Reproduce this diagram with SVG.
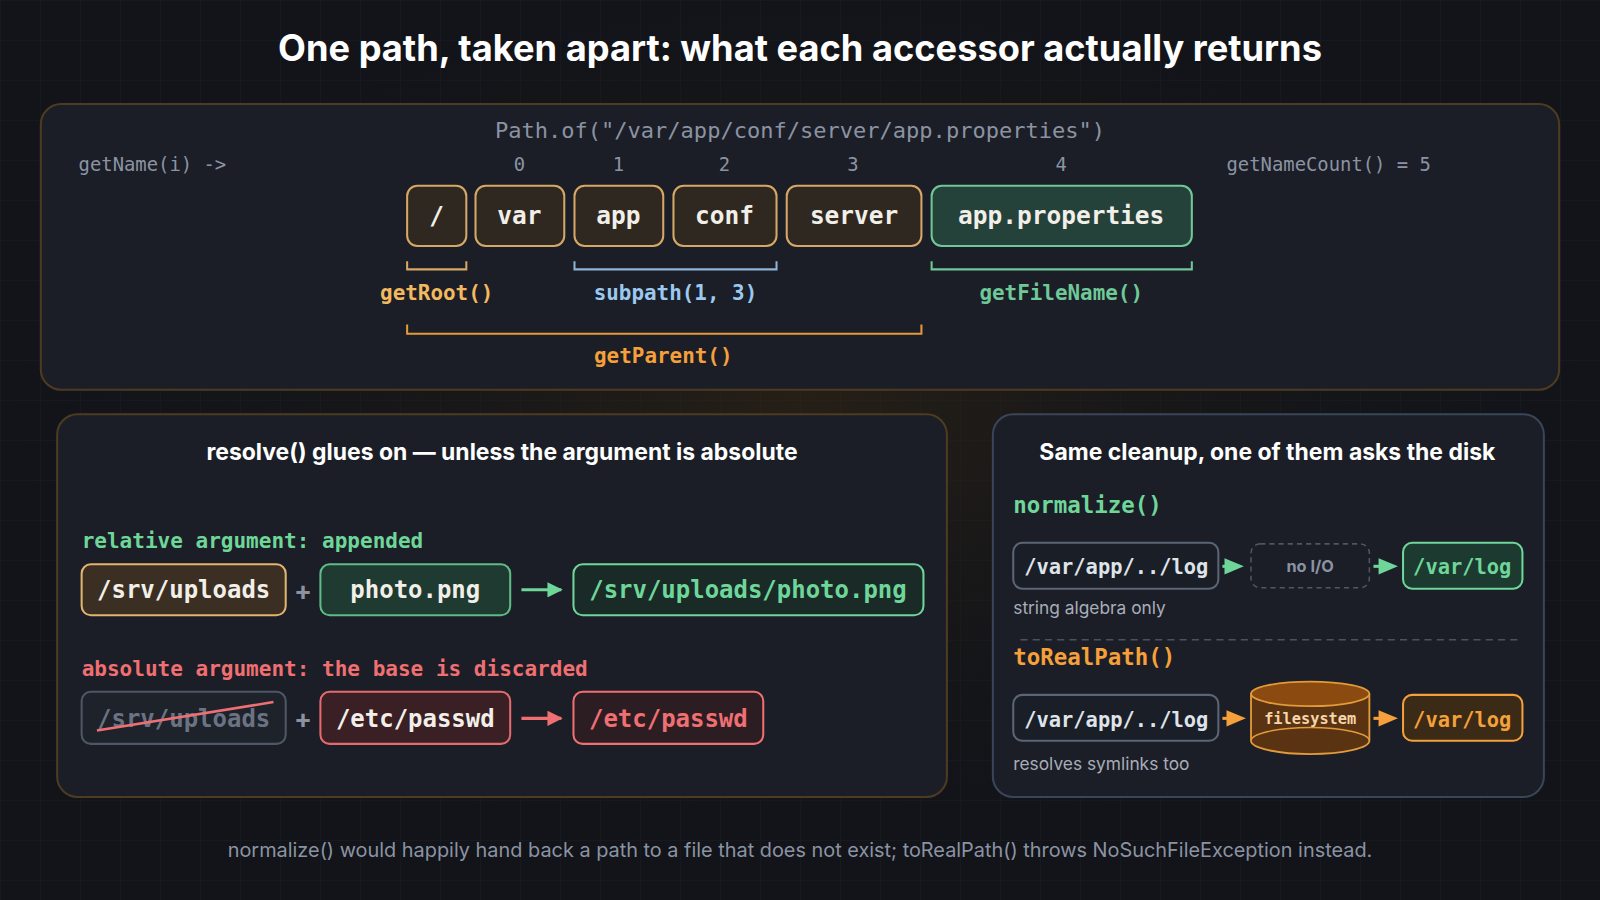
<svg xmlns="http://www.w3.org/2000/svg" width="1600" height="900" viewBox="0 0 1600 900">
<defs>
<pattern id="grid" width="40" height="40" patternUnits="userSpaceOnUse"><path d="M40 0H0V40" fill="none" stroke="#1a1d23" stroke-width="1"/></pattern>
<radialGradient id="glow" cx="0.5" cy="0.45" r="0.5"><stop offset="0" stop-color="#3a2a14" stop-opacity="0.5"/><stop offset="1" stop-color="#121419" stop-opacity="0"/></radialGradient>
<marker id="ag" viewBox="0 0 10 10" refX="9" refY="5" markerWidth="5" markerHeight="5" orient="auto"><path d="M0 0L10 5L0 10z" fill="#6fd69a"/></marker>
<marker id="ar" viewBox="0 0 10 10" refX="9" refY="5" markerWidth="5" markerHeight="5" orient="auto"><path d="M0 0L10 5L0 10z" fill="#f06f72"/></marker>
<style>
.sans{font-family:"Inter","Liberation Sans",sans-serif}
.mono{font-family:"DejaVu Sans Mono","Liberation Mono",monospace}
.seg{fill:#2f2820;stroke:#d7a766;stroke-width:2}
.segt{font-family:"DejaVu Sans Mono",monospace;font-weight:bold;font-size:24px;fill:#f2efe9;text-anchor:middle}
.idx{font-family:"DejaVu Sans Mono",monospace;font-size:18.5px;fill:#8b93a3;text-anchor:middle}
.lbl{font-family:"DejaVu Sans Mono",monospace;font-weight:bold;font-size:20.5px;text-anchor:middle}
.bt{font-family:"DejaVu Sans Mono",monospace;font-size:23.5px;font-weight:bold;text-anchor:middle}
.grey{fill:#1a1e26;stroke:#5b6576;stroke-width:2}
.note{font-family:"Inter","Liberation Sans",sans-serif;font-size:17px;fill:#a7adb8}
</style>
</defs>
<rect width="1600" height="900" fill="#121419"/>
<rect width="1600" height="900" fill="url(#grid)"/>
<rect width="1600" height="900" fill="url(#glow)"/>
<g transform="scale(1.0204)">
<text class="sans" x="784" y="60" text-anchor="middle" font-size="35.5" font-weight="bold" fill="#ffffff">One path, taken apart: what each accessor actually returns</text>

<g id="top-panel">
<rect x="40" y="102" width="1488" height="280" rx="20" fill="#1b1e26" stroke="#4d3b22" stroke-width="2"/>
<text class="mono" x="784" y="135" text-anchor="middle" font-size="21.6" fill="#8b93a3">Path.of("/var/app/conf/server/app.properties")</text>
<text class="mono" x="77" y="168" font-size="18.5" fill="#8b93a3">getName(i) -&gt;</text>
<text class="idx" x="509" y="168">0</text><text class="idx" x="606" y="168">1</text><text class="idx" x="710" y="168">2</text><text class="idx" x="836" y="168">3</text><text class="idx" x="1040" y="168">4</text>
<text class="mono" x="1202" y="168" font-size="18.5" fill="#8b93a3">getNameCount() = 5</text>
</g>
<g id="seg-root"><rect class="seg" x="399" y="182" width="58" height="59" rx="10" fill="#45382a"/><text class="segt" x="428" y="220">/</text></g>
<g id="seg-var"><rect class="seg" x="466" y="182" width="87" height="59" rx="10"/><text class="segt" x="509" y="220">var</text></g>
<g id="seg-app"><rect class="seg" x="563" y="182" width="87" height="59" rx="10"/><text class="segt" x="606" y="220">app</text></g>
<g id="seg-conf"><rect class="seg" x="660" y="182" width="101" height="59" rx="10"/><text class="segt" x="710" y="220">conf</text></g>
<g id="seg-server"><rect class="seg" x="771" y="182" width="132" height="59" rx="10"/><text class="segt" x="837" y="220">server</text></g>
<g id="seg-file"><rect x="913" y="182" width="255" height="59" rx="10" fill="#24423a" stroke="#6fc897" stroke-width="2"/><text class="segt" x="1040" y="220">app.properties</text></g>
<g id="brackets" fill="none" stroke-width="2">
<path d="M399 256V264H457V256" stroke="#d7a766"/>
<path d="M563 256V264H761V256" stroke="#8fb4d4"/>
<path d="M913 256V264H1168V256" stroke="#6fc897"/>
<path d="M399 318V327H903V318" stroke="#e39a3a"/>
</g>
<text class="lbl" x="428" y="294" fill="#f3b95f">getRoot()</text>
<text class="lbl" x="662" y="294" fill="#9cc9ef">subpath(1, 3)</text>
<text class="lbl" x="1040" y="294" fill="#6fc897">getFileName()</text>
<text class="lbl" x="650" y="356" fill="#f5a03a">getParent()</text>

<g id="resolve-panel">
<rect x="56" y="406" width="872" height="375" rx="20" fill="#1b1e26" stroke="#4d3b22" stroke-width="2"/>
<text class="sans" x="492" y="451" text-anchor="middle" font-size="22.5" font-weight="bold" fill="#ffffff">resolve() glues on — unless the argument is absolute</text>
<text class="mono" x="80" y="537" font-size="20.6" font-weight="bold" fill="#6fd69a">relative argument: appended</text>
<text class="mono" x="80" y="662" font-size="20.6" font-weight="bold" fill="#f06f72">absolute argument: the base is discarded</text>
</g>
<g id="rel-base"><rect x="80" y="553" width="200" height="50" rx="9" fill="#3a2f22" stroke="#e3b46e" stroke-width="2"/><text class="bt" x="180" y="586" fill="#f2efe9">/srv/uploads</text></g>
<text class="sans" x="297" y="588" text-anchor="middle" font-size="26" font-weight="bold" fill="#8b93a3">+</text>
<g id="rel-arg"><rect x="314" y="553" width="186" height="50" rx="9" fill="#1f3a31" stroke="#5fbb88" stroke-width="2"/><text class="bt" x="407" y="586" fill="#f2efe9">photo.png</text></g>
<g id="rel-res"><rect x="562" y="553" width="343" height="50" rx="9" fill="#1a2a27" stroke="#6fd69a" stroke-width="2"/><text class="bt" x="733" y="586" fill="#6fd69a">/srv/uploads/photo.png</text></g>
<g id="abs-base"><rect x="80" y="678" width="200" height="51" rx="9" fill="#1e222b" stroke="#4f5766" stroke-width="2"/><text class="bt" x="180" y="712" fill="#6b7383" font-weight="normal">/srv/uploads</text><line x1="95" y1="716" x2="268" y2="688" stroke="#f06f72" stroke-width="2.5"/></g>
<text class="sans" x="297" y="713" text-anchor="middle" font-size="26" font-weight="bold" fill="#8b93a3">+</text>
<g id="abs-arg"><rect x="314" y="678" width="186" height="51" rx="9" fill="#3a1f24" stroke="#e36b70" stroke-width="2"/><text class="bt" x="407" y="712" fill="#f2efe9">/etc/passwd</text></g>
<g id="abs-res"><rect x="562" y="678" width="186" height="51" rx="9" fill="#2c1d22" stroke="#f06f72" stroke-width="2"/><text class="bt" x="655" y="712" fill="#f06f72">/etc/passwd</text></g>

<g id="norm-panel">
<rect x="973" y="406" width="540" height="375" rx="20" fill="#1b1e26" stroke="#39465a" stroke-width="2"/>
<text class="sans" x="1242" y="451" text-anchor="middle" font-size="22.5" font-weight="bold" fill="#ffffff">Same cleanup, one of them asks the disk</text>
<text class="mono" x="993" y="503" font-size="22" font-weight="bold" fill="#6fd69a">normalize()</text>
<text class="note" x="993" y="602">string algebra only</text>
<line x1="1000" y1="627" x2="1490" y2="627" stroke="#4a5262" stroke-width="1.5" stroke-dasharray="7 5"/>
<text class="mono" x="993" y="652" font-size="22" font-weight="bold" fill="#f5a03a">toRealPath()</text>
<text class="note" x="993" y="755">resolves symlinks too</text>
</g>
<g id="n-in"><rect class="grey" x="993" y="532" width="201" height="45" rx="9"/><text class="mono" x="1094" y="563" text-anchor="middle" font-size="20" font-weight="bold" fill="#dfe3ea">/var/app/../log</text></g>
<g id="n-mid"><rect x="1226" y="533" width="116" height="43" rx="9" fill="none" stroke="#4f5766" stroke-width="1.5" stroke-dasharray="5 4"/><text class="sans" x="1284" y="561" text-anchor="middle" font-size="16" font-weight="bold" fill="#8b93a3">no I/O</text></g>
<g id="n-out"><rect x="1375" y="532" width="117" height="45" rx="9" fill="#1c3a30" stroke="#6fd69a" stroke-width="2"/><text class="mono" x="1433" y="563" text-anchor="middle" font-size="20" font-weight="bold" fill="#6fd69a">/var/log</text></g>
<g id="r-in"><rect class="grey" x="993" y="681" width="201" height="45" rx="9"/><text class="mono" x="1094" y="712" text-anchor="middle" font-size="20" font-weight="bold" fill="#dfe3ea">/var/app/../log</text></g>
<g id="r-fs">
<path d="M1226 680V726A58 13 0 0 0 1342 726V680" fill="#5a3312" stroke="#e39a3a" stroke-width="1.8"/>
<ellipse cx="1284" cy="680" rx="58" ry="12" fill="#8a4a10" stroke="#e39a3a" stroke-width="1.8"/>
<path d="M1226 726A58 13 0 0 1 1342 726" fill="none" stroke="#e39a3a" stroke-width="1.5"/>
<text class="mono" x="1284" y="710" text-anchor="middle" font-size="15" font-weight="bold" fill="#f5d6a8">filesystem</text>
</g>
<g id="r-out"><rect x="1375" y="681" width="117" height="45" rx="9" fill="#3a2a16" stroke="#f5a03a" stroke-width="2"/><text class="mono" x="1433" y="712" text-anchor="middle" font-size="20" font-weight="bold" fill="#f5a03a">/var/log</text></g>

<g id="connectors">
<line x1="511" y1="578" x2="550" y2="578" stroke="#6fd69a" stroke-width="3" marker-end="url(#ag)"/>
<line x1="511" y1="704" x2="550" y2="704" stroke="#f06f72" stroke-width="3" marker-end="url(#ar)"/>
<path d="M1200 547V563L1219 555z" fill="#6fd69a"/><line x1="1198" y1="555" x2="1204" y2="555" stroke="#6fd69a" stroke-width="3"/>
<path d="M1351 547V563L1370 555z" fill="#6fd69a"/><line x1="1346" y1="555" x2="1352" y2="555" stroke="#6fd69a" stroke-width="3"/>
<path d="M1202 696V712L1221 704z" fill="#f5a03a"/><line x1="1198" y1="704" x2="1204" y2="704" stroke="#f5a03a" stroke-width="3"/>
<path d="M1351 696V712L1370 704z" fill="#f5a03a"/><line x1="1346" y1="704" x2="1352" y2="704" stroke="#f5a03a" stroke-width="3"/>
</g>

<text class="sans" x="784" y="840" text-anchor="middle" font-size="19.5" fill="#8b93a3">normalize() would happily hand back a path to a file that does not exist; toRealPath() throws NoSuchFileException instead.</text>
</g>
</svg>
